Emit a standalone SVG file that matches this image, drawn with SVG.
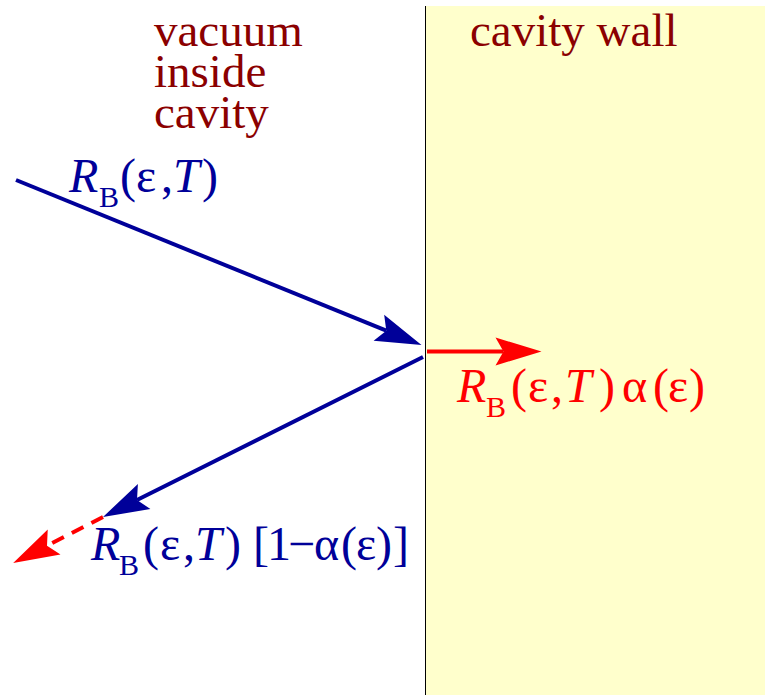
<svg xmlns="http://www.w3.org/2000/svg" width="765" height="695" viewBox="0 0 765 695">
<style>
.lbl{font-family:"Liberation Serif","Times New Roman",serif;font-size:47px;fill:#8b0000}
.m{font-family:"Liberation Serif","Times New Roman",serif;font-size:48px}
.it{font-style:italic}
.sub{font-size:30px}
.blue{fill:#000099}
.red{fill:#ff0000}
.bl{stroke:#000099;stroke-width:4;fill:none}
.rl{stroke:#ff0000;stroke-width:4;fill:none}
</style>
<defs>
<marker id="ahb" markerUnits="userSpaceOnUse" orient="auto" viewBox="-10 -16 50 32" refX="0" refY="0" markerWidth="50" markerHeight="32">
<path d="M0,0 L-8,-14 L38,0 L-8,14 Z" fill="#000099"/>
</marker>
<marker id="ahr" markerUnits="userSpaceOnUse" orient="auto" viewBox="-10 -16 50 32" refX="0" refY="0" markerWidth="50" markerHeight="32">
<path d="M0,0 L-8,-14 L38,0 L-8,14 Z" fill="#ff0000"/>
</marker>
</defs>
<g id="wall">
<rect x="425" y="6" width="340" height="689" fill="#ffffcc"/>
<line x1="425.5" y1="6" x2="425.5" y2="695" stroke="#000" stroke-width="1"/>
</g>
<g id="labels">
<text class="lbl" x="154" y="46">vacuum<tspan x="154" dy="41">inside</tspan><tspan x="154" dy="41">cavity</tspan></text>
<text class="lbl" x="470" y="46">cavity wall</text>
</g>
<g id="connectors">
<path class="bl" d="M16,180 L386.3,330.7" marker-end="url(#ahb)"/>
<path class="bl" d="M423,357 L137,500" marker-end="url(#ahb)"/>
<path class="rl" d="M103,517 L47,545.7" stroke-dasharray="13 9" marker-end="url(#ahr)"/>
<path class="rl" d="M427,351.5 L503.5,351.5" marker-end="url(#ahr)"/>
</g>
<g id="incident-label">
<text class="m blue" y="192"><tspan class="it" x="69">R</tspan><tspan class="sub" x="99" y="207">B</tspan><tspan x="120" y="192">(</tspan><tspan x="136">ε</tspan><tspan x="161">,</tspan><tspan class="it" x="173">T</tspan><tspan x="202">)</tspan></text>
</g>
<g id="absorbed-label">
<text class="m red" y="402"><tspan class="it" x="457">R</tspan><tspan class="sub" x="486" y="417">B</tspan><tspan x="511" y="402">(</tspan><tspan x="528">ε</tspan><tspan x="551">,</tspan><tspan class="it" x="565">T</tspan><tspan x="599">)</tspan><tspan x="622">α</tspan><tspan x="653">(</tspan><tspan x="668">ε</tspan><tspan x="689">)</tspan></text>
</g>
<g id="reflected-label">
<text class="m blue" y="560"><tspan class="it" x="91">R</tspan><tspan class="sub" x="119" y="575">B</tspan><tspan x="143" y="560">(</tspan><tspan x="160">ε</tspan><tspan x="183">,</tspan><tspan class="it" x="195">T</tspan><tspan x="225">)</tspan><tspan x="253">[</tspan><tspan x="267">1</tspan><tspan x="288">−</tspan><tspan x="314">α</tspan><tspan x="341">(</tspan><tspan x="356">ε</tspan><tspan x="376">)</tspan><tspan x="393">]</tspan></text>
</g>
</svg>
